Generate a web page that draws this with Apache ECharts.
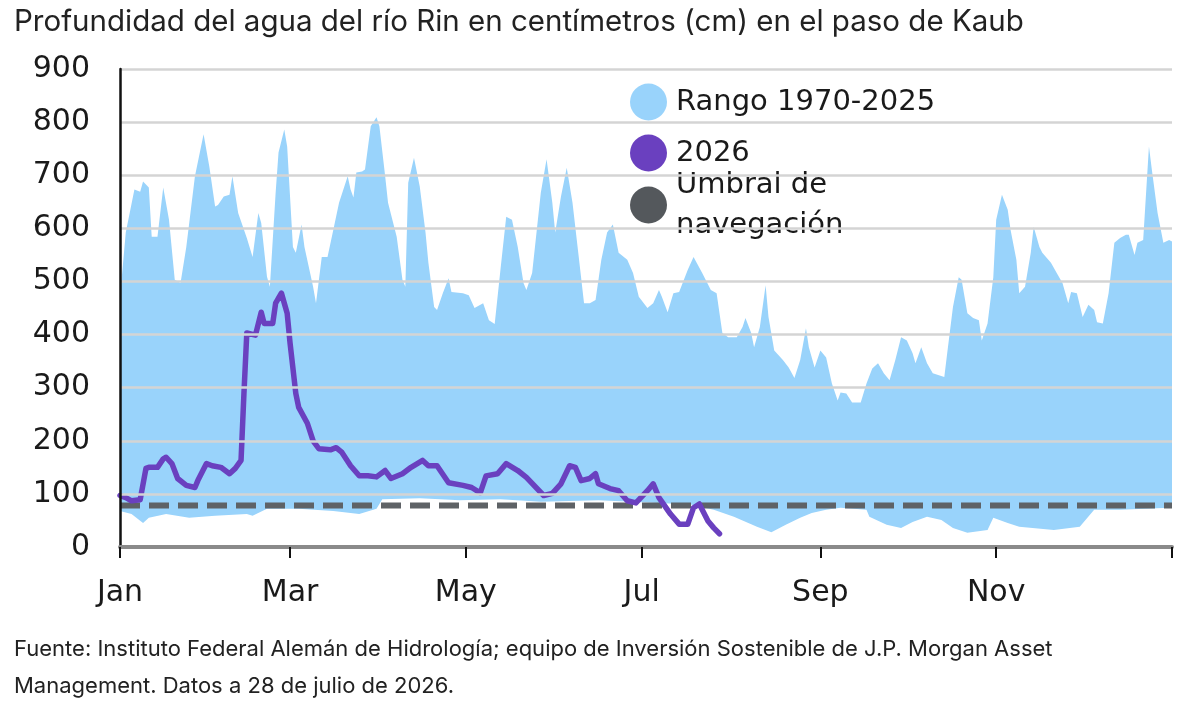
<!DOCTYPE html>
<html>
<head>
<meta charset="utf-8">
<script src="https://cdn.jsdelivr.net/npm/echarts@6/dist/echarts.min.js"></script>
<style>
  html, body { margin: 0; padding: 0; background: #fff; }
  #chart { width: 1200px; height: 708px; }
</style>
</head>
<body>
<div id="chart"></div>
<script>
// day of year (0 = 1 Jan) and depth in cm
var maxDay = [0, 2, 5, 7, 8, 10, 11, 13, 15, 17, 19, 21, 23, 26, 29, 31, 33, 34, 36, 38, 39, 41, 44, 46, 48, 49, 51, 52, 54, 55, 57, 58, 60, 61, 63, 64, 67, 68, 70, 72, 74, 76, 79, 80, 81, 82, 84, 85, 87, 89, 90, 92, 93, 96, 98, 99, 100, 102, 104, 106, 107, 109, 110, 112, 114, 115, 119, 121, 123, 126, 128, 130, 132, 134, 136, 138, 140, 141, 143, 146, 148, 150, 151, 153, 155, 157, 159, 161, 163, 165, 167, 169, 171, 173, 176, 178, 180, 183, 185, 187, 188, 190, 192, 194, 197, 199, 202, 205, 207, 209, 211, 214, 216, 217, 219, 220, 222, 224, 225, 227, 230, 232, 234, 236, 238, 239, 241, 243, 245, 247, 249, 250, 252, 254, 257, 259, 261, 263, 265, 267, 269, 271, 273, 275, 276, 278, 280, 282, 286, 287, 289, 291, 292, 294, 296, 298, 299, 301, 303, 304, 306, 308, 309, 311, 312, 314, 316, 317, 319, 320, 323, 325, 327, 329, 330, 332, 334, 336, 338, 339, 341, 343, 345, 347, 349, 350, 352, 353, 355, 357, 358, 360, 362, 364, 365];
var maxCm = [470, 592, 673, 669, 688, 677, 584, 584, 677, 616, 503, 497, 565, 698, 777, 716, 641, 644, 660, 663, 698, 629, 582, 546, 629, 610, 509, 490, 667, 743, 786, 754, 565, 554, 607, 565, 490, 459, 546, 546, 597, 648, 698, 673, 658, 705, 707, 711, 792, 809, 792, 698, 648, 584, 503, 490, 686, 733, 679, 592, 535, 452, 446, 478, 506, 480, 478, 474, 450, 459, 427, 420, 522, 622, 616, 565, 497, 484, 516, 667, 730, 648, 592, 660, 714, 648, 554, 459, 459, 465, 541, 592, 607, 554, 541, 516, 471, 450, 459, 484, 471, 442, 478, 480, 522, 546, 516, 484, 478, 403, 395, 395, 414, 431, 403, 376, 414, 493, 433, 370, 352, 338, 318, 352, 412, 376, 338, 370, 357, 308, 276, 291, 289, 272, 272, 308, 336, 346, 327, 314, 352, 395, 389, 365, 346, 376, 346, 327, 320, 365, 452, 508, 503, 440, 431, 427, 389, 421, 508, 616, 663, 635, 597, 541, 478, 490, 554, 603, 565, 554, 535, 516, 497, 459, 480, 478, 433, 456, 446, 423, 421, 478, 573, 582, 588, 588, 550, 573, 578, 754, 711, 629, 573, 578, 575];

var minDay = [0, 4, 8, 10, 16, 24, 33, 44, 46, 51, 62, 74, 83, 89, 91, 104, 118, 132, 146, 166, 183, 198, 206, 213, 221, 226, 231, 236, 240, 245, 250, 259, 260, 266, 271, 275, 280, 285, 289, 294, 301, 303, 308, 312, 324, 333, 338, 347, 364, 365];
var minCm = [68, 62, 45, 55, 62, 55, 59, 62, 59, 72, 72, 68, 62, 72, 90, 92, 88, 90, 85, 88, 84, 80, 70, 57, 38, 28, 42, 55, 64, 70, 74, 70, 57, 42, 36, 47, 57, 51, 36, 27, 32, 55, 45, 38, 32, 38, 70, 70, 74, 74];

var day2026 = [0, 2, 4, 7, 9, 10, 13, 15, 16, 18, 20, 23, 26, 27, 30, 32, 35, 38, 40, 42, 43, 44, 47, 49, 50, 53, 54, 56, 58, 59, 61, 62, 65, 67, 69, 73, 75, 77, 80, 83, 86, 89, 92, 94, 98, 101, 105, 107, 110, 114, 119, 122, 125, 127, 131, 134, 138, 141, 147, 150, 153, 156, 158, 160, 163, 165, 166, 170, 173, 176, 179, 183, 185, 187, 191, 194, 197, 199, 201, 204, 206, 208];
var cm2026 = [97, 93, 87, 89, 148, 150, 150, 166, 169, 157, 129, 116, 112, 125, 157, 153, 150, 138, 148, 163, 289, 403, 399, 442, 421, 421, 459, 478, 440, 384, 289, 263, 233, 200, 185, 183, 187, 178, 153, 134, 134, 132, 144, 129, 138, 150, 163, 153, 153, 121, 116, 112, 102, 134, 138, 157, 144, 131, 97, 101, 119, 153, 150, 125, 129, 138, 119, 110, 106, 87, 83, 106, 119, 93, 62, 43, 43, 74, 81, 49, 36, 25];

var thresholdCm = 78;
var tickDays = [0, 59, 120, 181, 243, 304, 365];
var labelDays = [0, 59, 120, 181, 243, 304];
var monthNames = ['Jan', 'Mar', 'May', 'Jul', 'Sep', 'Nov'];

function pairs(xs, ys) {
    return xs.map(function (x, i) { return [x, ys[i]]; });
}

var chart = echarts.init(document.getElementById('chart'));
var axisFont = 'DejaVu Sans';
var textFont = 'Inter';

var legendBase = {
    left: 625,
    orient: 'vertical',
    icon: 'circle',
    itemWidth: 37,
    itemHeight: 37,
    itemStyle: { borderWidth: 0 },
    textStyle: { fontFamily: axisFont, fontSize: 29, lineHeight: 40, color: '#1a1a1a', padding: [0, 0, 0, 4] }
};

chart.setOption({
    backgroundColor: '#fff',
    animation: false,
    title: [
        {
            text: 'Profundidad del agua del río Rin en centímetros (cm) en el paso de Kaub',
            left: 14, top: 7, padding: 0,
            textStyle: { fontFamily: textFont, fontSize: 29.5, fontWeight: 'normal', color: '#222' }
        },
        {
            text: 'Fuente: Instituto Federal Alemán de Hidrología; equipo de Inversión Sostenible de J.P. Morgan Asset\nManagement. Datos a 28 de julio de 2026.',
            left: 14, top: 631, padding: 0,
            textStyle: { fontFamily: textFont, fontSize: 22, fontWeight: 'normal', color: '#222', lineHeight: 37 }
        }
    ],
    legend: [
        Object.assign({}, legendBase, { top: 77, data: ['Rango 1970-2025'] }),
        Object.assign({}, legendBase, { top: 128, data: ['2026'] }),
        Object.assign({}, legendBase, { top: 160, data: ['Umbral de\nnavegación'] })
    ],
    grid: { left: 120, right: 28, top: 69, bottom: 161 },
    xAxis: {
        type: 'value',
        min: 0, max: 365,
        z: 10,
        axisLine: { show: true, lineStyle: { color: '#8a8a8a', width: 4 } },
        axisTick: { show: true, customValues: tickDays, length: 11, lineStyle: { color: '#111', width: 2 } },
        axisLabel: {
            customValues: labelDays,
            margin: 31,
            fontFamily: axisFont, fontSize: 30, color: '#1a1a1a',
            formatter: function (v) { return monthNames[labelDays.indexOf(v)]; }
        },
        splitLine: { show: false }
    },
    yAxis: {
        type: 'value',
        min: 0, max: 900, interval: 100,
        z: 10,
        axisLine: { show: true, lineStyle: { color: '#111', width: 2.5 } },
        axisTick: { show: false },
        axisLabel: { margin: 30, fontFamily: axisFont, fontSize: 30, color: '#1a1a1a' },
        splitLine: { lineStyle: { color: '#d4d4d4', width: 2.5 } }
    },
    series: [
        {
            name: 'Rango 1970-2025',
            type: 'line',
            z: 1,
            symbol: 'none',
            data: pairs(maxDay, maxCm),
            itemStyle: { color: '#99d3fb' },
            lineStyle: { width: 0 },
            areaStyle: { color: '#99d3fb', opacity: 1 }
        },
        {
            name: 'Mínimo',
            type: 'line',
            z: 2,
            symbol: 'none',
            data: pairs(minDay, minCm),
            itemStyle: { color: '#ffffff' },
            lineStyle: { width: 0 },
            areaStyle: { color: '#ffffff', opacity: 1 }
        },
        {
            name: 'Umbral de\nnavegación',
            type: 'line',
            z: 3,
            symbol: 'none',
            data: [[0, thresholdCm], [365, thresholdCm]],
            itemStyle: { color: '#54585c' },
            lineStyle: { color: '#5e6266', width: 6, type: [20, 9] }
        },
        {
            name: '2026',
            type: 'line',
            z: 4,
            symbol: 'none',
            data: pairs(day2026, cm2026),
            itemStyle: { color: '#6a40bf' },
            lineStyle: { color: '#6a40bf', width: 5.5, join: 'round', cap: 'round' }
        }
    ]
});
</script>
</body>
</html>
